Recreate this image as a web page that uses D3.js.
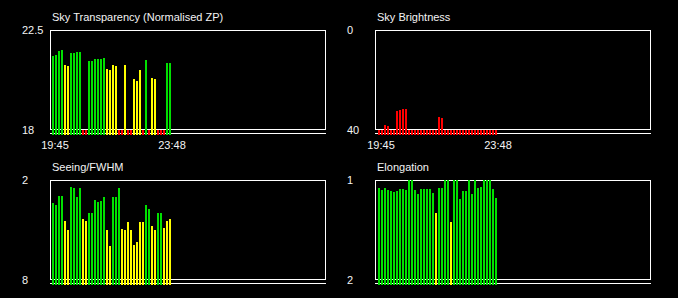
<!DOCTYPE html>
<html lang="en">
<head>
    <meta charset="UTF-8">
    <title>Night quality</title>
    <style>
        body {
            margin: 0;
            background-color: #000;
        }

        text.lbl {
            font-family: "Liberation Sans", Arial, sans-serif;
            font-size: 11px;
            fill: #f4f4f4;
        }

        rect.frame, line.base {
            fill: none;
            stroke: #fff;
            stroke-width: 1px;
        }
    </style>
    <script src="https://cdn.jsdelivr.net/npm/d3@7"></script>
</head>
<body>
<div id="chart"></div>
<script>
    // time labels for first and last exposure
    const timeLabels = ["19:45", "23:48"];

    // normalised zero point (18 .. 22.5), values below 18 are off-scale
    const transparency = [21.33, 21.38, 21.56, 21.60, 20.93, 20.88, 21.47, 21.47, 21.51, 21.51,
        17.5, 17.5, 21.11, 21.11, 21.20, 21.20, 21.20, 21.24, 20.75, 20.70,
        20.93, 20.88, 17.5, 17.5, 20.93, 17.5, 17.5, 20.30, 20.21, 20.70,
        17.5, 21.15, 17.5, 20.34, 20.30, 17.5, 17.5, 17.5, 21.02, 21.02];

    // sky brightness (0 .. 40, plotted inverted)
    const brightness = [40, 40, 38.0, 38.4, 40, 40, 32.4, 32.0, 31.6, 31.6,
        40, 40, 40, 40, 40, 40, 40, 40, 40, 40,
        34.8, 35.2, 40, 40, 40, 40, 40, 40, 40, 40,
        40, 40, 40, 40, 40, 40, 40, 40, 40, 40];

    // seeing fwhm (2 .. 8, plotted inverted)
    const seeing = [3.38, 3.50, 2.96, 2.96, 4.46, 5.00, 2.42, 2.48, 3.02, 2.48,
        4.34, 4.46, 3.95, 3.95, 3.20, 3.32, 3.26, 3.02, 5.00, 5.96,
        3.02, 3.02, 2.48, 4.94, 5.00, 4.52, 5.00, 5.90, 5.72, 4.52,
        4.52, 3.50, 3.74, 4.76, 5.00, 3.95, 3.95, 4.88, 4.46, 4.34];

    // elongation (1 .. 2, plotted inverted)
    const elongation = [1.08, 1.10, 1.08, 1.10, 1.11, 1.12, 1.11, 1.09, 1.09, 1.10,
        1.00, 1.00, 1.10, 1.14, 1.09, 1.09, 1.09, 1.09, 1.13, 1.33,
        1.08, 1.08, 1.00, 1.00, 1.42, 1.00, 1.00, 1.19, 1.11, 1.11,
        1.00, 1.14, 1.00, 1.08, 1.07, 1.00, 1.00, 1.00, 1.09, 1.18];

    const panels = [
        {title: "Sky Transparency (Normalised ZP)", data: transparency, top: 22.5, bottom: 18,
            ticks: ["22.5", "18"], good: 21.0, fair: 18.0, fx: 50, fy: 30, bx: 52, times: true},
        {title: "Sky Brightness", data: brightness, top: 0, bottom: 40,
            ticks: ["0", "40"], good: 10, fair: 20, fx: 375, fy: 30, bx: 378, times: true},
        {title: "Seeing/FWHM", data: seeing, top: 2, bottom: 8,
            ticks: ["2", "8"], good: 4.0, fair: 6.5, fx: 50, fy: 180, bx: 52, times: false},
        {title: "Elongation", data: elongation, top: 1, bottom: 2,
            ticks: ["1", "2"], good: 1.25, fair: 1.5, fx: 375, fy: 180, bx: 378, times: false}
    ];

    const colors = {good: "#00e000", fair: "#ffff00", bad: "#ff0000"};
    const fw = 275, fh = 99, pitch = 3;

    const svg = d3.select("#chart").append("svg")
        .attr("width", 678)
        .attr("height", 298)
        .style("display", "block")
        .style("background", "#000");

    function quality(p, v) {
        // "better" means closer to the top of the panel
        const dir = p.top > p.bottom ? 1 : -1;
        if (dir * (v - p.good) >= 0) return "good";
        if (dir * (v - p.fair) >= 0) return "fair";
        return "bad";
    }

    panels.forEach(function (p) {
        const g = svg.append("g");
        const n = p.data.length;

        const x = d3.scaleBand()
            .domain(d3.range(n))
            .range([p.bx, p.bx + pitch * n - 1])
            .paddingInner(1 / 3)
            .paddingOuter(0);

        const y = d3.scaleLinear()
            .domain([p.bottom, p.top])
            .range([p.fy + 100, p.fy])
            .clamp(true);

        const base = p.fy + 105;

        g.append("rect")
            .attr("class", "frame")
            .attr("x", p.fx + 0.5)
            .attr("y", p.fy + 0.5)
            .attr("width", fw)
            .attr("height", fh);

        g.append("line")
            .attr("class", "base")
            .attr("x1", p.fx)
            .attr("x2", p.fx + fw + 1)
            .attr("y1", p.fy + 103.5)
            .attr("y2", p.fy + 103.5);

        g.append("text")
            .attr("class", "lbl")
            .attr("x", p.fx + 2)
            .attr("y", p.fy - 9)
            .text(p.title);

        // y axis: only the two end values, left aligned
        const yAxis = g.append("g")
            .attr("transform", "translate(" + p.fx + ",0)")
            .call(d3.axisLeft(y).tickValues([p.top, p.bottom]).tickSize(0)
                .tickFormat((d, i) => p.ticks[i]));
        yAxis.select(".domain").remove();
        yAxis.selectAll("text")
            .attr("class", "lbl")
            .attr("font-family", null)
            .attr("font-size", null)
            .attr("fill", null)
            .attr("text-anchor", "start")
            .attr("x", -28);

        g.selectAll("rect.bar")
            .data(p.data)
            .enter().append("rect")
            .attr("class", "bar")
            .attr("x", (d, i) => x(i))
            .attr("width", x.bandwidth())
            .attr("y", d => Math.round(y(d)))
            .attr("height", d => base - Math.round(y(d)))
            .attr("fill", d => colors[quality(p, d)]);

        if (p.times) {
            const xAxis = g.append("g")
                .attr("transform", "translate(0," + base + ")")
                .call(d3.axisBottom(x).tickValues([0, n - 1]).tickSize(0).tickPadding(6)
                    .tickFormat((d, i) => timeLabels[i]));
            xAxis.select(".domain").remove();
            xAxis.selectAll("text")
                .attr("class", "lbl")
                .attr("font-family", null)
                .attr("font-size", null)
                .attr("fill", null)
                .attr("dx", 2);
        }
    });
</script>
</body>
</html>
